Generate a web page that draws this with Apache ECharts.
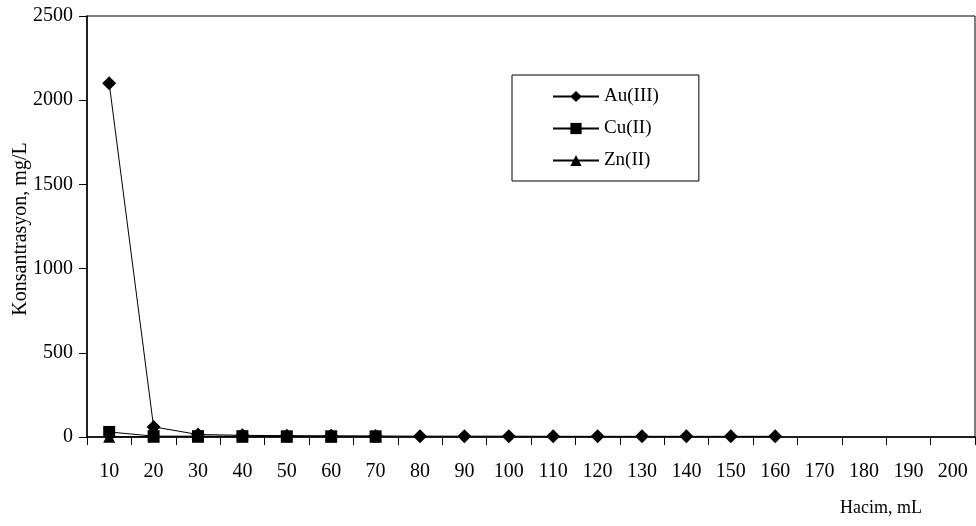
<!DOCTYPE html>
<html><head><meta charset="utf-8">
<script src="https://cdn.jsdelivr.net/npm/echarts@6/dist/echarts.min.js"></script>
<style>html,body{margin:0;padding:0;background:#fff}#c{width:976px;height:526px}</style>
</head><body><div id="c"></div>
<script>
const categories = ['10','20','30','40','50','60','70','80','90','100','110','120','130','140','150','160','170','180','190','200'];
const auValues = [2100, 60, 15, 10, 8, 7, 6, 5, 5, 5, 4, 4, 4, 4, 4, 4];
const cuValues = [30, 5, 5, 5, 4, 4, 4];
const znValues = [2, 2, 2, 2, 2, 2, 2];
const yTicks = {min: 0, max: 2500, interval: 500};
const yTitle = 'Konsantrasyon, mg/L';
const font = 'Liberation Serif';
const chart = echarts.init(document.getElementById('c'));
function ser(name, data, symbol, size) {
  return {name, type: 'line', data, symbol, symbolSize: size,
    lineStyle: {color: '#000', width: 1}, itemStyle: {color: '#000'},
    emphasis: {disabled: true}, animation: false, z: 3};
}
chart.setOption({
  animation: false,
  grid: {left: 87, right: 1, top: 16, bottom: 89, show: true, borderColor: '#000', borderWidth: 1, outerBoundsMode: 'none', containLabel: false},
  graphic: [{
    type: 'text', x: 21, y: 229, rotation: Math.PI / 2,
    style: {text: yTitle, fontFamily: font, fontSize: 20, fill: '#000', align: 'center', verticalAlign: 'middle'}
  }],
  legend: {
    orient: 'vertical', left: 512, top: 75,
    backgroundColor: '#fff', borderColor: '#000', borderWidth: 1,
    padding: [12, 40, 11, 40], itemGap: 13, itemWidth: 46, itemHeight: 14,
    textStyle: {fontFamily: font, fontSize: 19, color: '#000', width: 60},
    data: ['Au(III)', 'Cu(II)', 'Zn(II)']
  },
  xAxis: {
    type: 'category', data: categories, boundaryGap: true,
    name: 'Hacim, mL', nameLocation: 'end',
    nameTextStyle: {fontFamily: font, fontSize: 18, color: '#000', align: 'center', verticalAlign: 'top', padding: [62, 0, 0, -218]},
    axisLine: {lineStyle: {color: '#000', width: 1.5}},
    axisTick: {show: true, length: 8, lineStyle: {color: '#000'}},
    axisLabel: {fontFamily: font, fontSize: 20, color: '#000', margin: 25, interval: 0}
  },
  yAxis: {
    type: 'value', min: yTicks.min, max: yTicks.max, interval: yTicks.interval,
    axisLine: {show: true, lineStyle: {color: '#000', width: 1.5}},
    axisTick: {show: true, length: 8, lineStyle: {color: '#000'}},
    splitLine: {show: false},
    axisLabel: {fontFamily: font, fontSize: 20, color: '#000', margin: 14, formatter: v => String(v)}
  },
  series: [
    ser('Au(III)', auValues, 'diamond', 14),
    ser('Cu(II)', cuValues, 'rect', 12),
    ser('Zn(II)', znValues, 'triangle', 12)
  ]
});
</script></body></html>
